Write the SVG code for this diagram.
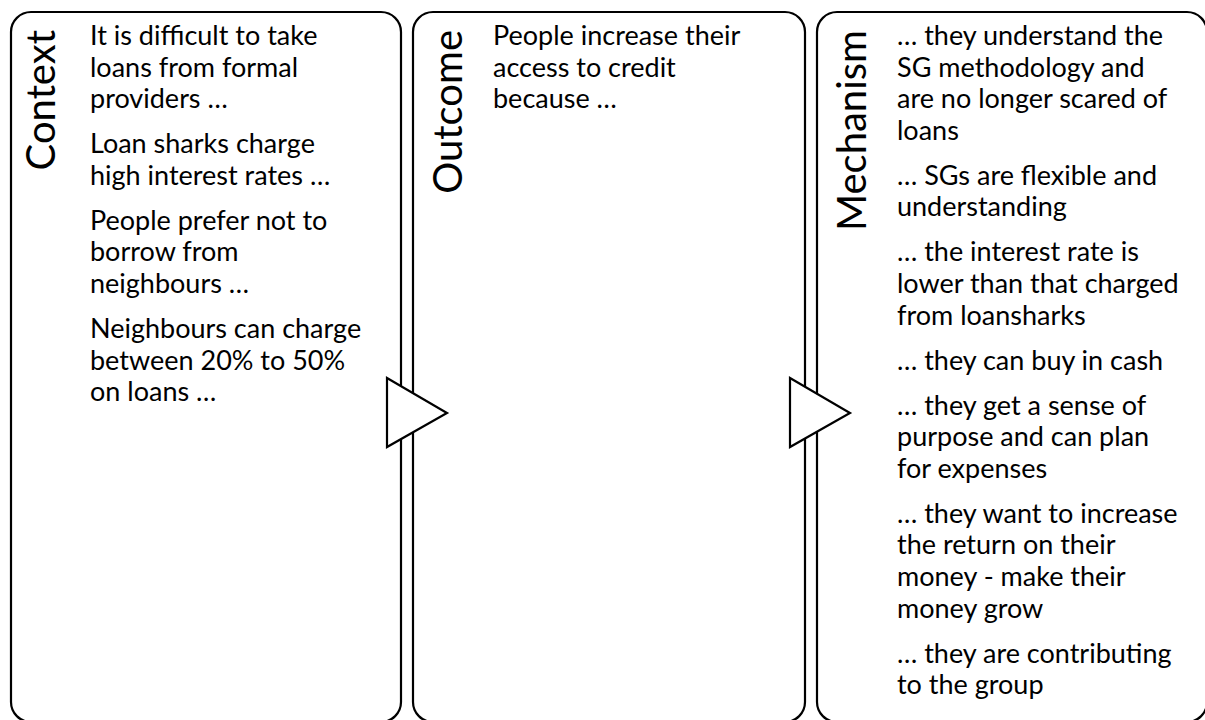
<svg xmlns="http://www.w3.org/2000/svg" width="1205" height="720" viewBox="0 0 1205 720">
  <style>
    .panel { fill: #ffffff; stroke: #000000; stroke-width: 2.2; }
    .title { font-family: "Lato", "Liberation Sans", sans-serif; font-size: 40px; fill: #000000; text-anchor: end; }
    .body { font-family: "Lato", "Liberation Sans", sans-serif; font-size: 27px; fill: #000000; }
    .arrow { fill: #ffffff; stroke: #000000; stroke-width: 2.2; stroke-linejoin: miter; }
  </style>

  <!-- Context panel -->
  <g id="context">
    <rect class="panel" x="11" y="12" width="390" height="710" rx="20" ry="20"/>
    <text class="title" transform="translate(55,30) rotate(-90)">Context</text>
    <text class="body">
      <tspan x="90" y="45">It is difficult to take</tspan>
      <tspan x="90" y="76.6">loans from formal</tspan>
      <tspan x="90" y="108.2">providers …</tspan>
      <tspan x="90" y="153.2">Loan sharks charge</tspan>
      <tspan x="90" y="184.8">high interest rates …</tspan>
      <tspan x="90" y="229.8">People prefer not to</tspan>
      <tspan x="90" y="261.4">borrow from</tspan>
      <tspan x="90" y="293">neighbours …</tspan>
      <tspan x="90" y="338">Neighbours can charge</tspan>
      <tspan x="90" y="369.6">between 20% to 50%</tspan>
      <tspan x="90" y="401.2">on loans …</tspan>
    </text>
  </g>

  <!-- Outcome panel -->
  <g id="outcome">
    <rect class="panel" x="413" y="12" width="392" height="710" rx="20" ry="20"/>
    <text class="title" transform="translate(462,30) rotate(-90)">Outcome</text>
    <text class="body">
      <tspan x="493" y="45">People increase their</tspan>
      <tspan x="493" y="76.6">access to credit</tspan>
      <tspan x="493" y="108.2">because …</tspan>
    </text>
  </g>

  <!-- Mechanism panel -->
  <g id="mechanism">
    <rect class="panel" x="817" y="12" width="390" height="710" rx="20" ry="20"/>
    <text class="title" transform="translate(866,30) rotate(-90)">Mechanism</text>
    <text class="body">
      <tspan x="897" y="45">… they understand the</tspan>
      <tspan x="897" y="76.6">SG methodology and</tspan>
      <tspan x="897" y="108.2">are no longer scared of</tspan>
      <tspan x="897" y="139.8">loans</tspan>
      <tspan x="897" y="184.8">… SGs are flexible and</tspan>
      <tspan x="897" y="216.4">understanding</tspan>
      <tspan x="897" y="261.4">… the interest rate is</tspan>
      <tspan x="897" y="293">lower than that charged</tspan>
      <tspan x="897" y="324.6">from loansharks</tspan>
      <tspan x="897" y="369.6">… they can buy in cash</tspan>
      <tspan x="897" y="414.6">… they get a sense of</tspan>
      <tspan x="897" y="446.2">purpose and can plan</tspan>
      <tspan x="897" y="477.8">for expenses</tspan>
      <tspan x="897" y="522.8">… they want to increase</tspan>
      <tspan x="897" y="554.4">the return on their</tspan>
      <tspan x="897" y="586">money - make their</tspan>
      <tspan x="897" y="617.6">money grow</tspan>
      <tspan x="897" y="662.6">… they are contributing</tspan>
      <tspan x="897" y="694.2">to the group</tspan>
    </text>
  </g>

  <!-- Flow arrows between panels -->
  <g id="connectors">
    <polygon class="arrow" points="387,378 447,413 387,447"/>
    <polygon class="arrow" points="790,378 850,413 790,447"/>
  </g>
</svg>
